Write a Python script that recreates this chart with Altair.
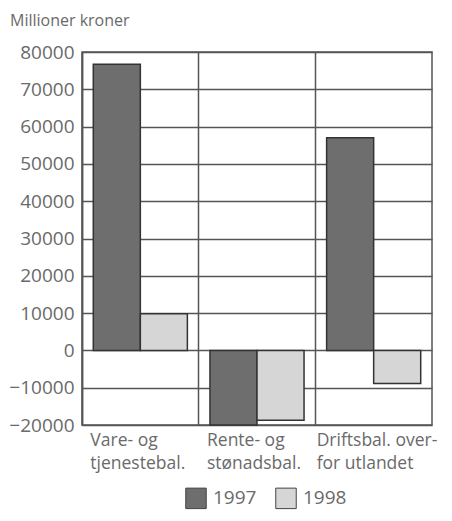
import altair as alt
import pandas as pd

categories = ["Vare- og|tjenestebal.", "Rente- og|stønadsbal.", "Driftsbal. over-|for utlandet"]
years = ["1997", "1998"]
values_1997 = [76700, -20000, 57000]
values_1998 = [9800, -18700, -8900]
y_ticks = [-20000, -10000, 0, 10000, 20000, 30000, 40000, 50000, 60000, 70000, 80000]

rows = []
for c, a, b in zip(categories, values_1997, values_1998):
    rows.append({"kat": c, "år": "1997", "verdi": a})
    rows.append({"kat": c, "år": "1998", "verdi": b})
df = pd.DataFrame(rows)

FONT = "Open Sans"
TXT = "#6a6a6a"
GRID = "#555555"

chart = alt.Chart(df).mark_bar(stroke="#333333", strokeWidth=1.5).encode(
    x=alt.X("kat:N", sort=categories, title=None,
            scale=alt.Scale(paddingInner=0, paddingOuter=0),
            axis=alt.Axis(grid=True, gridColor=GRID, gridWidth=1.5, bandPosition=0,
                          domain=False, ticks=False, labelAngle=0,
                          labelAlign="left", labelBaseline="top",
                          labelOffset={"condition": {"test": "indexof(datum.value, 'Drifts') == 0", "value": -57}, "value": -50},
                          labelExpr="split(datum.label, '|')",
                          labelPadding=6, labelLineHeight=23,
                          labelFont=FONT, labelFontSize=17.5, labelColor=TXT)),
    xOffset=alt.XOffset("år:N", scale=alt.Scale(paddingInner=0, paddingOuter=0.24)),
    y=alt.Y("verdi:Q", title=None,
            scale=alt.Scale(domain=[-20000, 80000], nice=False, clamp=True),
            axis=alt.Axis(values=y_ticks, format="d", grid=True, gridColor=GRID, gridWidth=1.5,
                          domain=True, domainColor=GRID, domainWidth=1.5,
                          ticks=False, labelPadding=8,
                          labelFont=FONT, labelFontSize=19, labelColor=TXT)),
    fill=alt.Fill("år:N", scale=alt.Scale(domain=years, range=["#6e6e6e", "#d6d6d6"]),
                  legend=alt.Legend(title=None, orient="none", legendX=103, legendY=435,
                                    direction="horizontal",
                                    symbolType="square", symbolSize=420, symbolStrokeColor="#444",
                                    symbolStrokeWidth=1, labelFont=FONT, labelFontSize=19,
                                    labelColor=TXT, columnPadding=16, labelOffset=6)),
).properties(
    width=350, height=373,
    autosize=alt.AutoSizeParams(type="none"),
    padding={"left": 74, "top": 44, "right": 12, "bottom": 88},
    title=alt.TitleParams("Millioner kroner", anchor="start", frame="group", dx=-72,
                          font=FONT, fontSize=16, fontWeight="normal", color=TXT, offset=14),
).configure_view(stroke=GRID, strokeWidth=1.5)

chart.save("out.html", embed_options={"renderer": "svg", "actions": False})
